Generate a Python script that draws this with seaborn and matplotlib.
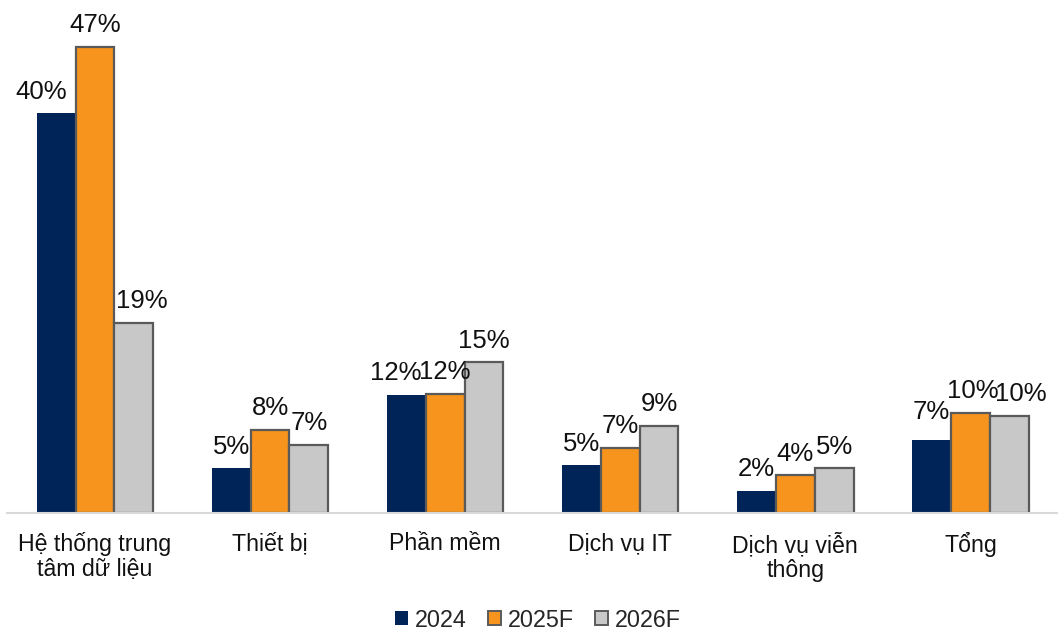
import matplotlib
matplotlib.use("Agg")
import matplotlib.pyplot as plt
import seaborn as sns
import pandas as pd

categories = ["Hệ thống trung\ntâm dữ liệu", "Thiết bị", "Phần mềm", "Dịch vụ IT", "Dịch vụ viễn\nthông", "Tổng"]
series = ["2024", "2025F", "2026F"]
v2024 = [40.3, 4.5, 11.9, 4.8, 2.2, 7.4]
v2025 = [47.0, 8.4, 12.0, 6.6, 3.8, 10.1]
v2026 = [19.2, 6.9, 15.2, 8.8, 4.5, 9.8]
lbl2024 = ["40%", "5%", "12%", "5%", "2%", "7%"]
lbl2025 = ["47%", "8%", "12%", "7%", "4%", "10%"]
lbl2026 = ["19%", "7%", "15%", "9%", "5%", "10%"]

colors = ["#002458", "#F7941D", "#C8C8C8"]
edges = ["#002458", "#5A5A5A", "#5A5A5A"]

# label nudges (pixels) to mimic the reference's anti-overlap placement
nudges = {(0, 0): (-14.5, 0), (2, 0): (8, 0), (0, 2): (-11, 0),
          (1, 5): (2, 0), (2, 5): (12, 0), (0, 5): (0, 6)}

rows = []
for s, vals in zip(series, [v2024, v2025, v2026]):
    for c, v in zip(categories, vals):
        rows.append({"cat": c, "series": s, "val": v})
df = pd.DataFrame(rows)

sns.set_theme(style="white")
plt.rcParams["font.family"] = ["Liberation Sans", "DejaVu Sans"]

fig = plt.figure(figsize=(10.58, 6.31), dpi=100)
ax = fig.add_axes([0.007, 0.187, 0.993, 0.786])
sns.barplot(data=df, x="cat", y="val", hue="series", palette=colors,
            width=0.665, ax=ax, saturation=1, legend=True)

pad = 7
for si, (cont, ec, labels) in enumerate(zip(ax.containers, edges, [lbl2024, lbl2025, lbl2026])):
    for p in cont:
        p.set_edgecolor(ec)
        p.set_linewidth(1.6 if ec != edges[0] else 0)
    texts = ax.bar_label(cont, labels=labels, padding=pad, fontsize=18.5, color="#111111")
    for ci, t in enumerate(texts):
        dx, dy = nudges.get((si, ci), (0, 0))
        t.xyann = (dx * 0.72, pad + dy * 0.72)

ax.set_ylim(0, 50)
ax.set_xlim(-0.5, 5.5)
ax.set_xlabel("")
ax.set_ylabel("")
ax.set_yticks([])
for s in ["top", "right", "left"]:
    ax.spines[s].set_visible(False)
ax.spines["bottom"].set_color("#D9D9D9")
ax.spines["bottom"].set_linewidth(1.5)
ax.tick_params(axis="x", length=0, pad=14, labelsize=16.7, colors="#111111")
for t in ax.get_xticklabels():
    t.set_linespacing(1.1)
    t.set_verticalalignment("top")

handles, labs = ax.get_legend_handles_labels()
for h, ec in zip(handles, edges):
    h.set_edgecolor(ec)
    h.set_linewidth(1.4 if ec != edges[0] else 0)
ax.legend(handles, labs, loc="center", bbox_to_anchor=(0.505, -0.216),
          ncol=3, frameon=False, fontsize=16.8, handlelength=0.55, handleheight=0.55,
          handletextpad=0.3, columnspacing=0.9)

fig.savefig("out.png", dpi=100)
